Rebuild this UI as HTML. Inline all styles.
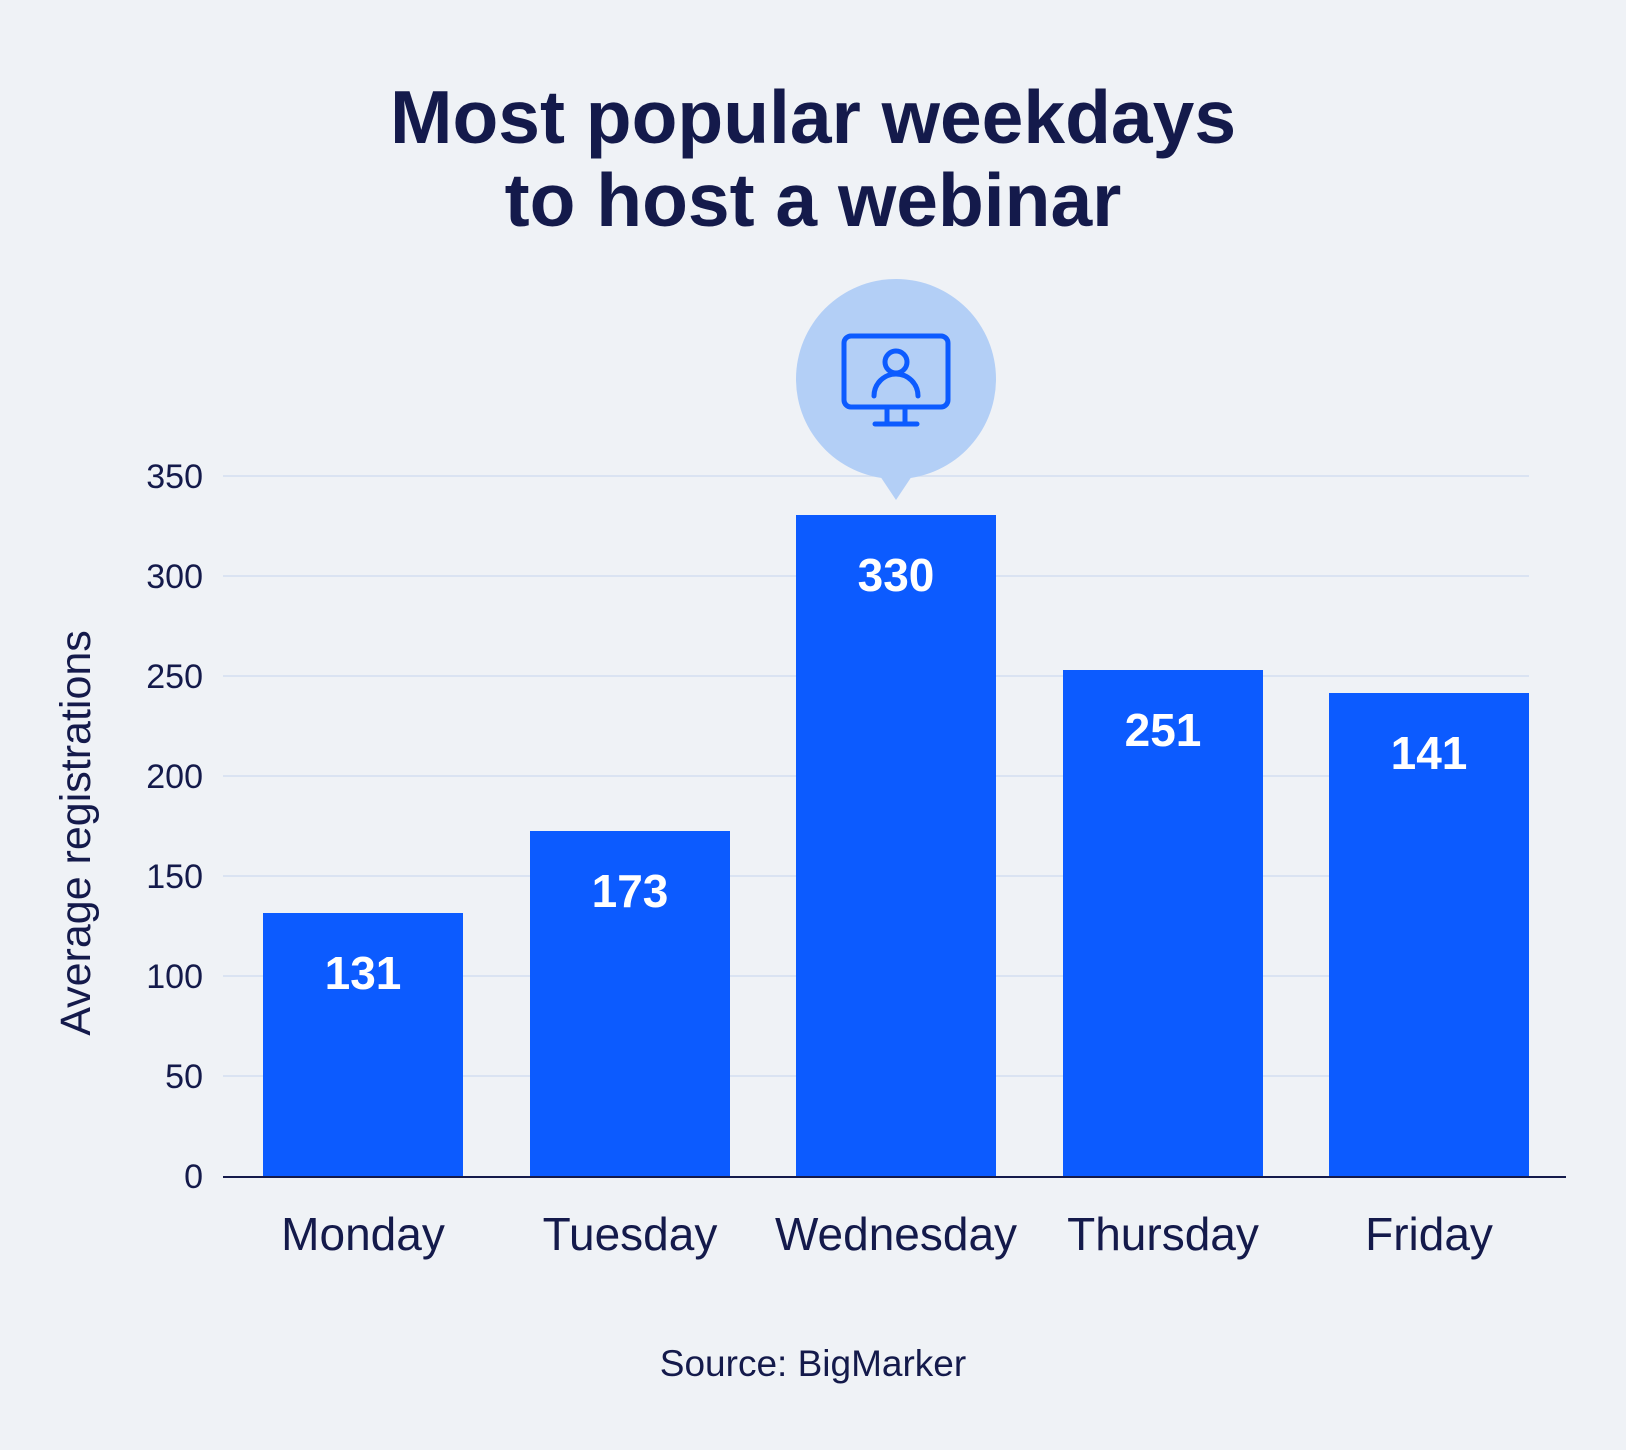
<!DOCTYPE html>
<html><head><meta charset="utf-8"><style>
html,body{margin:0;padding:0;background:#eff2f6;}
svg{display:block;font-family:"Liberation Sans",sans-serif;}
</style></head><body>
<svg width="1626" height="1450" viewBox="0 0 1626 1450">
<rect width="1626" height="1450" fill="#eff2f6"/>
<text x="813" y="143" text-anchor="middle" font-size="75" font-weight="bold" fill="#141a4b">Most popular weekdays</text>
<text x="813" y="226" text-anchor="middle" font-size="75" font-weight="bold" fill="#141a4b">to host a webinar</text>
<g stroke="#d3def0" stroke-width="1.5">
<line x1="223" x2="1529" y1="476" y2="476"/>
<line x1="223" x2="1529" y1="576" y2="576"/>
<line x1="223" x2="1529" y1="676" y2="676"/>
<line x1="223" x2="1529" y1="776" y2="776"/>
<line x1="223" x2="1529" y1="876" y2="876"/>
<line x1="223" x2="1529" y1="976" y2="976"/>
<line x1="223" x2="1529" y1="1076" y2="1076"/>
</g>
<g font-size="34" fill="#141a4b" text-anchor="end">
<text x="203" y="488">350</text><text x="203" y="588">300</text><text x="203" y="688">250</text>
<text x="203" y="788">200</text><text x="203" y="888">150</text><text x="203" y="988">100</text>
<text x="203" y="1088">50</text><text x="203" y="1188">0</text>
</g>
<text transform="translate(90,833) rotate(-90)" text-anchor="middle" font-size="43" fill="#141a4b">Average registrations</text>
<g fill="#0c5bff">
<rect x="263" y="913" width="200" height="264"/>
<rect x="530" y="831" width="200" height="346"/>
<rect x="796" y="515" width="200" height="662"/>
<rect x="1063" y="670" width="200" height="507"/>
<rect x="1329" y="693" width="200" height="484"/>
</g>
<line x1="223" x2="1566" y1="1177" y2="1177" stroke="#141a4b" stroke-width="2"/>
<g font-size="46" font-weight="bold" fill="#fff" text-anchor="middle">
<text x="363" y="989">131</text><text x="630" y="907">173</text><text x="896" y="591">330</text>
<text x="1163" y="746">251</text><text x="1429" y="769">141</text>
</g>
<g font-size="46" fill="#141a4b" text-anchor="middle">
<text x="363" y="1250">Monday</text><text x="630" y="1250">Tuesday</text><text x="896" y="1250">Wednesday</text>
<text x="1163" y="1250">Thursday</text><text x="1429" y="1250">Friday</text>
</g>
<text x="813" y="1376" text-anchor="middle" font-size="37" fill="#141a4b">Source: BigMarker</text>
<circle cx="896" cy="379" r="100" fill="#b3cff6"/>
<polygon points="876,470 916,470 896,500" fill="#b3cff6"/>
<g fill="none" stroke="#0c5bff" stroke-width="5" stroke-linecap="round">
<rect x="844" y="336" width="104" height="71" rx="7"/>
<circle cx="896" cy="362" r="11"/>
<path d="M874,396 a22,22 0 0 1 44,0"/>
<line x1="887" y1="407" x2="887" y2="423"/><line x1="905" y1="407" x2="905" y2="423"/>
<line x1="875" y1="424" x2="917" y2="424"/>
</g>
</svg>
</body></html>
